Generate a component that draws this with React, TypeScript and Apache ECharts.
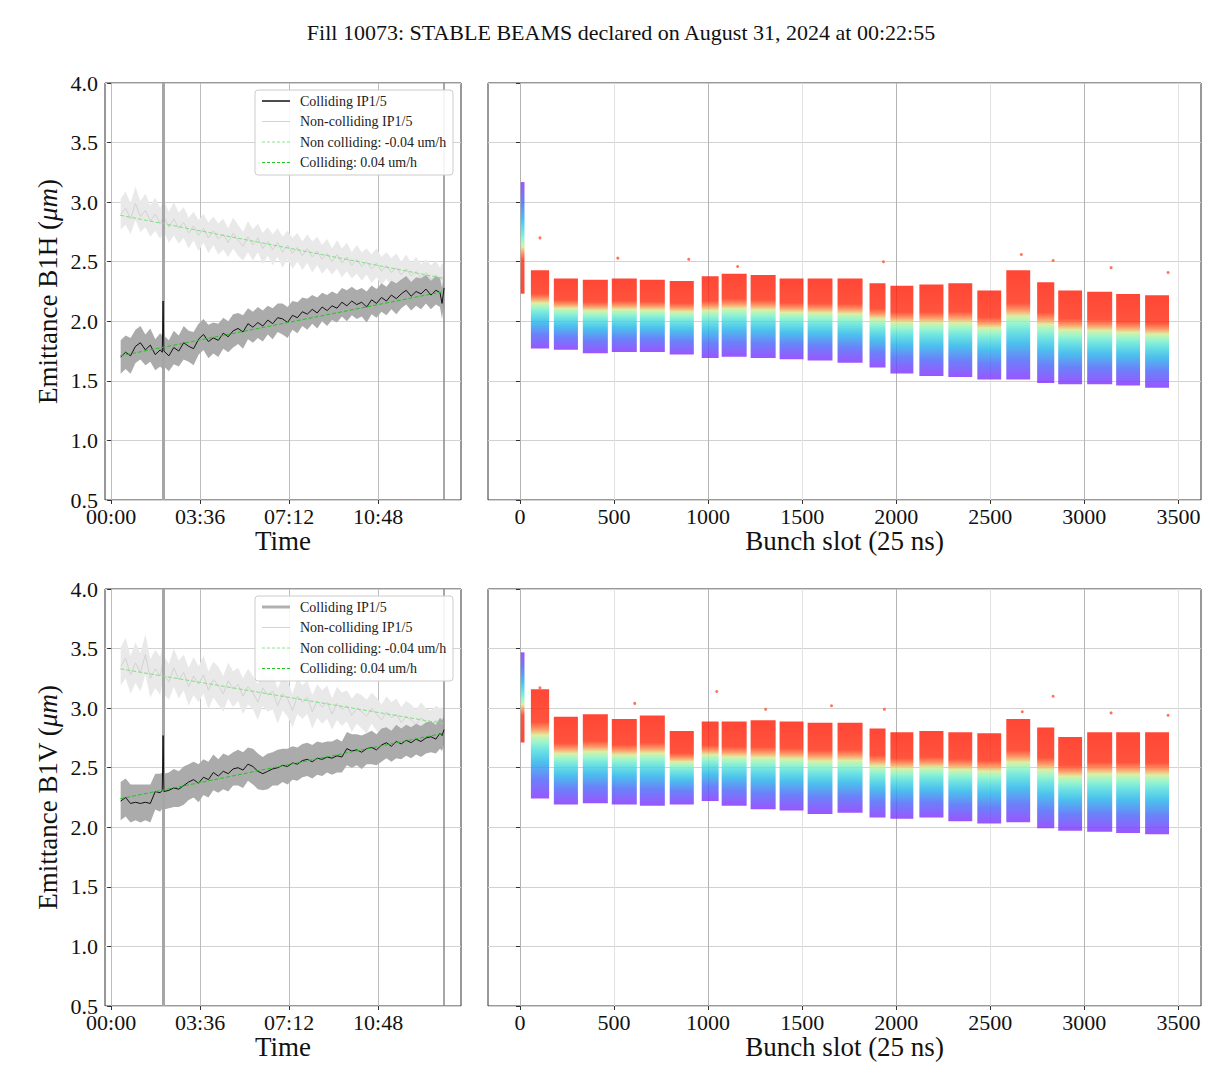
import React, { useEffect, useRef } from "react";
import * as echarts from "echarts";

const titleText = "Fill 10073: STABLE BEAMS declared on August 31, 2024 at 00:22:55";
const timeTicks = [0, 216, 432, 648];
const slotTicks = [0, 500, 1000, 1500, 2000, 2500, 3000, 3500];
const legendLabels = ["Colliding IP1/5", "Non-colliding IP1/5", "Non colliding: -0.04 um/h", "Colliding: 0.04 um/h"];

// time in minutes after 00:00
const times = [
  23, 35, 47, 59, 71, 83, 95, 107, 119, 124,
  126, 128, 140, 152, 164, 176, 188, 200, 212, 224,
  236, 248, 260, 272, 284, 296, 308, 320, 332, 344,
  356, 368, 380, 392, 404, 416, 428, 440, 452, 464,
  476, 488, 500, 512, 524, 536, 548, 560, 572, 584,
  596, 608, 620, 632, 644, 656, 668, 680, 692, 704,
  716, 728, 740, 752, 764, 776, 788, 798, 803, 808,
];

const colH = [
  1.70, 1.74, 1.71, 1.79, 1.82, 1.76, 1.80, 1.72, 1.76, 1.74,
  2.17, 1.75, 1.71, 1.78, 1.75, 1.82, 1.79, 1.77, 1.85, 1.89,
  1.83, 1.86, 1.84, 1.90, 1.87, 1.92, 1.94, 1.91, 1.98, 1.95,
  1.99, 1.96, 2.01, 1.98, 2.03, 2.02, 1.99, 2.05, 2.03, 2.08,
  2.06, 2.10, 2.07, 2.12, 2.09, 2.13, 2.11, 2.16, 2.13, 2.17,
  2.14, 2.16, 2.12, 2.18, 2.15, 2.20, 2.17, 2.22, 2.19, 2.23,
  2.26, 2.21, 2.25, 2.23, 2.27, 2.22, 2.26, 2.24, 2.15, 2.28,
];
const colHsd = [
  0.14, 0.14, 0.15, 0.14, 0.14, 0.13, 0.14, 0.13, 0.14, 0.14,
  0.14, 0.13, 0.13, 0.14, 0.13, 0.14, 0.13, 0.14, 0.13, 0.13,
  0.14, 0.13, 0.14, 0.13, 0.13, 0.14, 0.13, 0.14, 0.13, 0.13,
  0.13, 0.13, 0.12, 0.13, 0.12, 0.13, 0.13, 0.12, 0.13, 0.12,
  0.13, 0.12, 0.13, 0.12, 0.13, 0.12, 0.12, 0.12, 0.13, 0.12,
  0.12, 0.12, 0.13, 0.12, 0.12, 0.12, 0.12, 0.12, 0.13, 0.12,
  0.12, 0.12, 0.12, 0.13, 0.12, 0.12, 0.12, 0.12, 0.13, 0.12,
];
const nonH = [
  2.90, 2.95, 2.86, 2.99, 2.88, 2.93, 2.84, 2.90, 2.82, 2.86,
  2.84, 2.88, 2.79, 2.86, 2.78, 2.83, 2.74, 2.80, 2.72, 2.78,
  2.70, 2.76, 2.69, 2.73, 2.66, 2.74, 2.68, 2.63, 2.71, 2.64,
  2.70, 2.61, 2.67, 2.60, 2.66, 2.58, 2.64, 2.57, 2.62, 2.55,
  2.61, 2.54, 2.59, 2.52, 2.57, 2.50, 2.56, 2.49, 2.54, 2.47,
  2.52, 2.46, 2.50, 2.44, 2.49, 2.42, 2.47, 2.41, 2.45, 2.39,
  2.44, 2.38, 2.42, 2.36, 2.41, 2.35, 2.39, 2.34, 2.37, 2.35,
];
const nonHsd = [
  0.13, 0.14, 0.13, 0.14, 0.13, 0.14, 0.13, 0.14, 0.13, 0.13,
  0.13, 0.13, 0.13, 0.14, 0.13, 0.13, 0.13, 0.12, 0.13, 0.12,
  0.13, 0.12, 0.13, 0.13, 0.12, 0.13, 0.13, 0.12, 0.13, 0.13,
  0.12, 0.13, 0.12, 0.13, 0.12, 0.13, 0.12, 0.13, 0.12, 0.12,
  0.12, 0.13, 0.12, 0.12, 0.12, 0.11, 0.12, 0.12, 0.12, 0.11,
  0.12, 0.12, 0.11, 0.12, 0.12, 0.12, 0.11, 0.12, 0.12, 0.11,
  0.12, 0.11, 0.12, 0.12, 0.11, 0.12, 0.12, 0.11, 0.12, 0.12,
];
const colV = [
  2.22, 2.25, 2.20, 2.21, 2.20, 2.21, 2.20, 2.30, 2.29, 2.31,
  2.77, 2.30, 2.31, 2.33, 2.32, 2.35, 2.38, 2.40, 2.37, 2.42,
  2.40, 2.46, 2.43, 2.47, 2.45, 2.49, 2.50, 2.48, 2.53, 2.51,
  2.47, 2.45, 2.47, 2.49, 2.50, 2.52, 2.51, 2.54, 2.53, 2.56,
  2.57, 2.55, 2.58, 2.57, 2.59, 2.58, 2.60, 2.59, 2.66, 2.64,
  2.65, 2.63, 2.66, 2.67, 2.65, 2.69, 2.71, 2.68, 2.72, 2.70,
  2.73, 2.71, 2.74, 2.72, 2.75, 2.76, 2.74, 2.79, 2.77, 2.82,
];
const colVsd = [
  0.16, 0.16, 0.16, 0.15, 0.16, 0.15, 0.16, 0.15, 0.16, 0.15,
  0.16, 0.15, 0.15, 0.16, 0.15, 0.16, 0.15, 0.15, 0.16, 0.15,
  0.15, 0.15, 0.14, 0.15, 0.15, 0.14, 0.15, 0.15, 0.14, 0.15,
  0.15, 0.14, 0.15, 0.14, 0.15, 0.14, 0.15, 0.14, 0.14, 0.14,
  0.14, 0.14, 0.14, 0.14, 0.13, 0.14, 0.14, 0.13, 0.14, 0.14,
  0.13, 0.14, 0.13, 0.14, 0.13, 0.14, 0.13, 0.13, 0.14, 0.13,
  0.13, 0.13, 0.13, 0.13, 0.13, 0.13, 0.12, 0.13, 0.13, 0.12,
];
const nonV = [
  3.35, 3.42, 3.28, 3.38, 3.30, 3.45, 3.25, 3.33, 3.27, 3.36,
  3.30, 3.28, 3.22, 3.34, 3.24, 3.30, 3.18, 3.27, 3.20, 3.28,
  3.15, 3.24, 3.19, 3.12, 3.23, 3.16, 3.20, 3.10, 3.18, 3.13,
  3.05, 3.17, 3.11, 3.14, 3.02, 3.12, 3.08, 2.98, 3.10, 3.05,
  3.09, 2.97, 3.06, 3.01, 3.05, 2.95, 3.04, 2.99, 3.02, 2.94,
  3.00, 2.97, 2.93, 3.00, 2.95, 2.90, 2.97, 2.92, 2.95, 2.88,
  2.93, 2.90, 2.86, 2.92, 2.88, 2.85, 2.90, 2.87, 2.89, 2.86,
];
const nonVsd = [
  0.16, 0.17, 0.16, 0.17, 0.16, 0.17, 0.16, 0.16, 0.16, 0.15,
  0.16, 0.16, 0.15, 0.16, 0.16, 0.15, 0.16, 0.16, 0.15, 0.16,
  0.16, 0.15, 0.16, 0.15, 0.15, 0.15, 0.14, 0.15, 0.15, 0.14,
  0.15, 0.15, 0.14, 0.15, 0.15, 0.14, 0.15, 0.14, 0.15, 0.14,
  0.14, 0.14, 0.14, 0.14, 0.14, 0.13, 0.14, 0.14, 0.13, 0.14,
  0.13, 0.14, 0.14, 0.13, 0.14, 0.13, 0.13, 0.13, 0.13, 0.13,
  0.13, 0.13, 0.13, 0.13, 0.12, 0.13, 0.12, 0.13, 0.12, 0.12,
];

// linear fits (end points)
const fitTimes = [22, 808];
const fitNonH = [2.89, 2.36];
const fitColH = [1.71, 2.25];
const fitNonV = [3.33, 2.87];
const fitColV = [2.24, 2.79];
const spikeTime = 126;
const endTime = 808;

// bunch trains (slot ranges) and emittance spread (min/max) per train
const trainStart = [4, 58, 180, 334, 488, 637, 796, 966, 1072, 1226, 1380, 1529, 1688, 1858, 1969, 2123, 2277, 2431, 2585, 2749, 2861, 3015, 3169, 3323];
const trainEnd = [24, 155, 308, 467, 621, 770, 924, 1056, 1205, 1359, 1507, 1661, 1821, 1943, 2091, 2251, 2404, 2558, 2712, 2840, 2988, 3148, 3296, 3450];
const hLow = [2.24, 1.78, 1.77, 1.74, 1.75, 1.75, 1.73, 1.70, 1.71, 1.70, 1.69, 1.68, 1.66, 1.62, 1.57, 1.55, 1.54, 1.52, 1.52, 1.49, 1.48, 1.48, 1.47, 1.45];
const hHigh = [3.16, 2.42, 2.35, 2.34, 2.35, 2.34, 2.33, 2.37, 2.39, 2.38, 2.35, 2.35, 2.35, 2.31, 2.29, 2.30, 2.31, 2.25, 2.42, 2.32, 2.25, 2.24, 2.22, 2.21];
const vLow = [2.72, 2.25, 2.20, 2.21, 2.20, 2.19, 2.20, 2.23, 2.19, 2.16, 2.15, 2.12, 2.13, 2.09, 2.08, 2.09, 2.06, 2.04, 2.05, 2.00, 1.98, 1.97, 1.96, 1.95];
const vHigh = [3.46, 3.15, 2.92, 2.94, 2.90, 2.93, 2.80, 2.88, 2.88, 2.89, 2.88, 2.87, 2.87, 2.82, 2.79, 2.80, 2.79, 2.78, 2.90, 2.83, 2.75, 2.79, 2.79, 2.79];
const decreasingTrains = [0];

const hOutSlot = [106, 520, 897, 1157, 1932, 2665, 2834, 3142, 3445];
const hOutVal = [2.70, 2.53, 2.52, 2.46, 2.50, 2.56, 2.51, 2.45, 2.41];
const vOutSlot = [106, 610, 1046, 1306, 1656, 1937, 2670, 2834, 3142, 3445];
const vOutVal = [3.17, 3.04, 3.14, 2.99, 3.02, 2.99, 2.97, 3.10, 2.96, 2.94];

const SERIF = '"Liberation Serif", "DejaVu Serif", serif';

const rainbowStops = [
  { offset: 0, color: "#ff1e0a" },
  { offset: 0.3, color: "#ff2e12" },
  { offset: 0.37, color: "#ff8a4c" },
  { offset: 0.42, color: "#d2ec90" },
  { offset: 0.48, color: "#86f4c2" },
  { offset: 0.56, color: "#4cdcdc" },
  { offset: 0.67, color: "#24b2ea" },
  { offset: 0.82, color: "#4a66f8" },
  { offset: 1, color: "#8430ff" },
];
const reversedStops = rainbowStops.map((s) => ({ offset: 1 - s.offset, color: s.color })).reverse();

function fmtTime(v: number) {
  const h = Math.floor(v / 60);
  const m = Math.round(v - h * 60);
  return String(h).padStart(2, "0") + ":" + String(m).padStart(2, "0");
}

function bandSeries(xi: number, vals: number[], sds: number[], color: string, z: number) {
  return {
    type: "custom",
    xAxisIndex: xi,
    yAxisIndex: xi,
    z,
    silent: true,
    data: times.map((t, i) => [t, vals[i] - sds[i], vals[i] + sds[i]]),
    encode: { x: 0, y: [1, 2] },
    renderItem: (params: any, api: any) => {
      if (params.dataIndex !== 0) return null;
      const upper = times.map((t, i) => api.coord([t, vals[i] + sds[i]]));
      const lower = times.map((t, i) => api.coord([t, vals[i] - sds[i]])).reverse();
      return { type: "polygon", shape: { points: upper.concat(lower) }, style: { fill: color } };
    },
  };
}

function trainSeries(xi: number, low: number[], high: number[]) {
  return {
    type: "custom",
    xAxisIndex: xi,
    yAxisIndex: xi,
    silent: true,
    z: 2,
    data: trainStart.map((s, i) => [s, trainEnd[i], low[i], high[i], decreasingTrains.includes(i) ? 1 : 0]),
    encode: { x: [0, 1], y: [2, 3] },
    renderItem: (params: any, api: any) => {
      const a = api.coord([api.value(0), api.value(3)]);
      const b = api.coord([api.value(1), api.value(2)]);
      const inv = api.value(4) === 1;
      return {
        type: "rect",
        shape: { x: a[0], y: a[1] - 1, width: Math.max(b[0] - a[0], 3), height: b[1] - a[1] + 2 },
        style: { fill: new echarts.graphic.LinearGradient(0, 0, 0, 1, inv ? reversedStops : rainbowStops), opacity: 0.82 },
      };
    },
  };
}

function legendGroup(top: number, first: any) {
  const styles = [
    first,
    { stroke: "#d4d4d4", lineWidth: 1 },
    { stroke: "#8ee68e", lineWidth: 1, lineDash: [3, 2] },
    { stroke: "#22c322", lineWidth: 1, lineDash: [3, 2] },
  ];
  const children: any[] = [
    { type: "rect", z: 100, shape: { x: 0, y: 0, width: 198, height: 85, r: 3 }, style: { fill: "rgba(255,255,255,0.9)", stroke: "#cccccc", lineWidth: 1 } },
  ];
  legendLabels.forEach((lab, i) => {
    const y = 11 + i * 20.5;
    children.push({ type: "line", z: 101, shape: { x1: 7, y1: y, x2: 35, y2: y }, style: styles[i] });
    children.push({
      type: "text",
      z: 101,
      x: 45,
      y,
      style: { text: lab, fontSize: 14, fontFamily: SERIF, fill: "#222", align: "left", verticalAlign: "middle", textAlign: "left", textVerticalAlign: "middle" },
    });
  });
  return { type: "group", x: 255, y: top, z: 100, children };
}

function yAxis(gi: number, labels: boolean, name: string) {
  return {
    type: "value",
    gridIndex: gi,
    min: 0.5,
    max: 4,
    interval: 0.5,
    axisLine: { show: false },
    axisTick: { show: true, length: 4, lineStyle: { color: "#333" } },
    axisLabel: { show: labels, fontFamily: SERIF, fontSize: 22, color: "#111", margin: 7, formatter: (v: number) => v.toFixed(1) },
    splitLine: { show: true, lineStyle: { color: "#d2d2d2", width: 1 } },
    name: labels ? "{a|" + name + " (}{i|μm}{a|)}" : "",
    nameLocation: "middle",
    nameGap: 44,
    nameTextStyle: {
      fontFamily: SERIF,
      fontSize: 27,
      color: "#111",
      rich: {
        a: { fontFamily: SERIF, fontSize: 27, color: "#111" },
        i: { fontFamily: SERIF, fontSize: 27, color: "#111", fontStyle: "italic" },
      },
    },
  };
}

function timeAxis(gi: number) {
  return {
    type: "value",
    gridIndex: gi,
    min: -15,
    max: 849,
    axisLine: { show: false },
    axisTick: { show: true, length: 4, customValues: timeTicks, lineStyle: { color: "#333" } },
    axisLabel: { customValues: timeTicks, formatter: fmtTime, fontFamily: SERIF, fontSize: 22, color: "#111", margin: 5 },
    splitLine: { show: true, lineStyle: { color: "#bdbdbd", width: 1 } },
    name: "Time",
    nameLocation: "middle",
    nameGap: 27,
    nameTextStyle: { fontFamily: SERIF, fontSize: 27, color: "#111", verticalAlign: "top" },
  };
}

function slotAxis(gi: number) {
  return {
    type: "value",
    gridIndex: gi,
    min: -170,
    max: 3620,
    axisLine: { show: false },
    axisTick: { show: true, length: 4, customValues: slotTicks, lineStyle: { color: "#333" } },
    axisLabel: { customValues: slotTicks, formatter: (v: number) => String(v), fontFamily: SERIF, fontSize: 22, color: "#111", margin: 5 },
    splitLine: { show: true, lineStyle: { color: ["#b4b4b4", "#e2e2e2"], width: 1 } },
    name: "Bunch slot (25 ns)",
    nameLocation: "middle",
    nameGap: 27,
    nameTextStyle: { fontFamily: SERIF, fontSize: 27, color: "#111", verticalAlign: "top" },
  };
}

function timePanelSeries(xi: number, col: number[], colSd: number[], non: number[], nonSd: number[], fitNon: number[], fitCol: number[]) {
  return [
    bandSeries(xi, non, nonSd, "#e9e9e9", 2),
    {
      type: "line",
      xAxisIndex: xi,
      yAxisIndex: xi,
      z: 3,
      silent: true,
      showSymbol: false,
      data: times.map((t, i) => [t, non[i]]),
      lineStyle: { color: "#d2d2d2", width: 1 },
      markLine: {
        silent: true,
        symbol: ["none", "none"],
        label: { show: false },
        data: [
          { xAxis: spikeTime, lineStyle: { color: "#a6a6a6", width: 3, type: "solid" } },
          { xAxis: endTime, lineStyle: { color: "#8a8a8a", width: 1.5, type: "solid" } },
        ],
      },
    },
    bandSeries(xi, col, colSd, "#ababab", 4),
    {
      type: "line",
      xAxisIndex: xi,
      yAxisIndex: xi,
      z: 5,
      silent: true,
      showSymbol: false,
      data: times.map((t, i) => [t, col[i]]),
      lineStyle: { color: "#111", width: 1 },
    },
    {
      type: "line",
      xAxisIndex: xi,
      yAxisIndex: xi,
      z: 6,
      silent: true,
      showSymbol: false,
      data: fitTimes.map((t, i) => [t, fitNon[i]]),
      lineStyle: { color: "#7ee07e", width: 1, type: [4, 2] },
    },
    {
      type: "line",
      xAxisIndex: xi,
      yAxisIndex: xi,
      z: 6,
      silent: true,
      showSymbol: false,
      data: fitTimes.map((t, i) => [t, fitCol[i]]),
      lineStyle: { color: "#22c322", width: 1, type: [4, 2] },
    },
  ];
}

function outlierSeries(xi: number, slots: number[], vals: number[]) {
  return {
    type: "scatter",
    xAxisIndex: xi,
    yAxisIndex: xi,
    z: 3,
    silent: true,
    symbolSize: 3,
    data: slots.map((s, i) => [s, vals[i]]),
    itemStyle: { color: "#ff5a3c", opacity: 0.85 },
  };
}

const gridBase = { show: true, borderColor: "#333", borderWidth: 1, backgroundColor: "transparent", containLabel: false, outerBoundsMode: "none" };

export default function App() {
  const ref = useRef<HTMLDivElement>(null);
  useEffect(() => {
    if (!ref.current) return;
    const chart = echarts.init(ref.current, null, { renderer: "svg" });
    chart.setOption({
      animation: false,
      backgroundColor: "#ffffff",
      grid: [
        { ...gridBase, left: 105, top: 83, width: 356, height: 417 },
        { ...gridBase, left: 488, top: 83, width: 713, height: 417 },
        { ...gridBase, left: 105, top: 589, width: 356, height: 417 },
        { ...gridBase, left: 488, top: 589, width: 713, height: 417 },
      ],
      xAxis: [timeAxis(0), slotAxis(1), timeAxis(2), slotAxis(3)],
      yAxis: [yAxis(0, true, "Emittance B1H"), yAxis(1, false, ""), yAxis(2, true, "Emittance B1V"), yAxis(3, false, "")],
      series: [
        ...timePanelSeries(0, colH, colHsd, nonH, nonHsd, fitNonH, fitColH),
        trainSeries(1, hLow, hHigh),
        outlierSeries(1, hOutSlot, hOutVal),
        ...timePanelSeries(2, colV, colVsd, nonV, nonVsd, fitNonV, fitColV),
        trainSeries(3, vLow, vHigh),
        outlierSeries(3, vOutSlot, vOutVal),
      ],
      graphic: [
        {
          type: "text",
          x: 621,
          y: 32,
          z: 50,
          style: { text: titleText, fontSize: 22, fontFamily: SERIF, fill: "#111", align: "center", verticalAlign: "middle", textAlign: "center", textVerticalAlign: "middle" },
        },
        legendGroup(90, { stroke: "#111", lineWidth: 1.5 }),
        legendGroup(596, { stroke: "#b0b0b0", lineWidth: 3 }),
      ],
    });
    return () => chart.dispose();
  }, []);
  return <div ref={ref} style={{ position: "absolute", left: 0, top: 0, width: 1219, height: 1080 }} />;
}
